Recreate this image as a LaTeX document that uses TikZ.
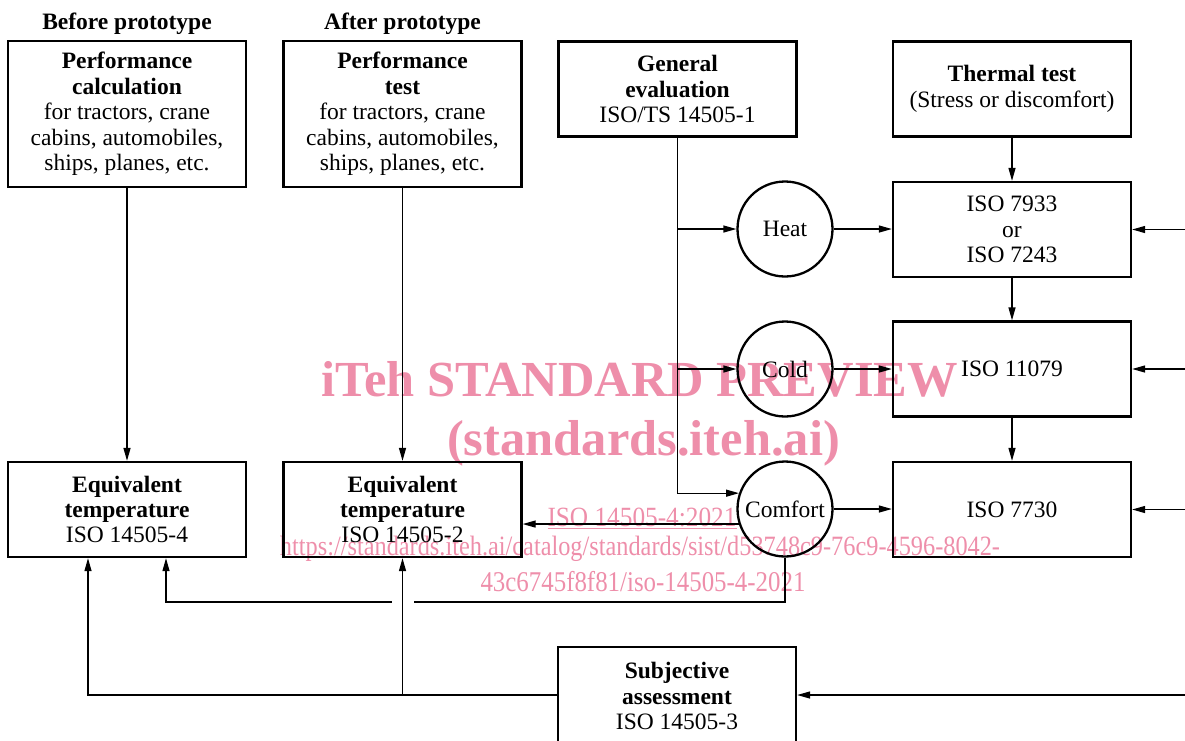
\documentclass[tikz,border=0pt]{standalone}
\usepackage{fontspec}
\setmainfont{Liberation Serif}
\usetikzlibrary{arrows.meta,calc}
\definecolor{wmpink}{RGB}{238,142,170}
\newcommand{\dgf}{\fontsize{23.5}{25.4}\selectfont}
\newcommand{\wmbig}{\fontsize{50.5}{50}\selectfont\bfseries}
\newcommand{\wmsmall}{\fontsize{24.5}{24.5}\selectfont}
\begin{document}
\begin{tikzpicture}[x=1pt,y=-1pt,
  box/.style={draw,line width=2.3pt,minimum width=238pt,minimum height=95pt,inner sep=0pt,align=center,font=\dgf},
  circ/.style={draw,circle,line width=2.3pt,minimum size=95pt,inner sep=0pt,font=\dgf},
  ttl/.style={font=\dgf\bfseries,inner sep=0pt},
  conn/.style={line width=1.3pt},
  arr/.style={conn,-{Triangle[length=13pt,width=7pt]}},
  wmk/.style={text=wmpink,inner sep=0pt}]
\useasboundingbox (0,0) rectangle (1185,740);
% watermark
\node[wmk,font=\wmbig,anchor=base] (w1) at (639.5,396) {iTeh STANDARD PREVIEW};
\node[wmk,font=\wmbig,anchor=base] (w2) at (643.5,455) {(standards.iteh.ai)};
\node[wmk,anchor=base] (w3) at (642,526) {\scalebox{1}[1.1]{\resizebox{189pt}{!}{\wmsmall\underline{ISO 14505-4:2021}}}};
\node[wmk,anchor=base] (w4) at (640,555) {\scalebox{1}[1.15]{\resizebox{720pt}{!}{\wmsmall https://standards.iteh.ai/catalog/standards/sist/d53748c9-76c9-4596-8042-}}};
\node[wmk,anchor=base] (w5) at (643,591) {\scalebox{1}[1.15]{\resizebox{325pt}{!}{\wmsmall 43c6745f8f81/iso-14505-4-2021}}};
% titles
\node[ttl,anchor=base] (tA) at (127,29) {Before prototype};
\node[ttl,anchor=base] (tB) at (402.5,29) {After prototype};
% boxes
\node[box,minimum height=146pt] (pc) at (127,114) {\textbf{Performance}\\\textbf{calculation}\\for tractors, crane\\cabins, automobiles,\\ships, planes, etc.};
\node[box,minimum height=146pt] (pt) at (402.5,114) {\textbf{Performance}\\\textbf{test}\\for tractors, crane\\cabins, automobiles,\\ships, planes, etc.};
\node[box] (ge) at (677.5,89) {\textbf{General}\\\textbf{evaluation}\\ISO/TS 14505-1};
\node[box] (tt) at (1012,89) {\textbf{Thermal test}\\(Stress or discomfort)};
\node[circ] (heat) at (785,229) {Heat};
\node[circ] (cold) at (785,369) {Cold};
\node[circ] (comf) at (785,509) {Comfort};
\node[box] (i7933) at (1012,229.5) {ISO 7933\\or\\ISO 7243};
\node[box] (i11079) at (1012,369) {ISO 11079};
\node[box] (i7730) at (1012,509.5) {ISO 7730};
\node[box] (et4) at (127,509.5) {\textbf{Equivalent}\\\textbf{temperature}\\ISO 14505-4};
\node[box] (et2) at (402.5,509.5) {\textbf{Equivalent}\\\textbf{temperature}\\ISO 14505-2};
\node[box,minimum height=98pt] (sa) at (677,696) {\textbf{Subjective}\\\textbf{assessment}\\ISO 14505-3};
% helper coordinates
\coordinate (r1) at (1186,229.5);
\coordinate (r2) at (1186,369);
\coordinate (r3) at (1186,509.5);
\coordinate (r4) at (1186,695);
\coordinate (k) at (402.5,602);
\coordinate (x166) at (166,0);
\coordinate (x88) at (88,0);
% connectors
\draw[arr] (pc.south) -- (et4.north);
\draw[arr] (pt.south) -- (et2.north);
\draw[arr] (tt.south) -- (i7933.north);
\draw[arr] (i7933.south) -- (i11079.north);
\draw[arr] (i11079.south) -- (i7730.north);
\draw[arr] (ge.south) |- (comf.161.6);
\draw[arr] (ge.south |- heat.west) -- (heat.west);
\draw[arr] (ge.south |- cold.west) -- (cold.west);
\draw[arr] (heat.east) -- (heat.east -| i7933.west);
\draw[arr] (cold.east) -- (cold.east -| i11079.west);
\draw[arr] (comf.east) -- (comf.east -| i7730.west);
\draw[arr] (r1) -- (i7933.east);
\draw[arr] (r2) -- (i11079.east);
\draw[arr] (r3) -- (i7730.east);
\draw[arr] (r4) -- (sa.east |- r4);
\draw[arr] (comf.198.4) -- (comf.198.4 -| et2.east);
\draw[conn] (comf.south) |- ([xshift=11pt]k);
\draw[arr] ([xshift=-11pt]k) -| (et4.south -| x166);
\draw[arr] (sa.west |- r4) -| (et4.south -| x88);
\draw[arr] (sa.west |- r4 -| et2.south) -- (et2.south);
\end{tikzpicture}
\end{document}
